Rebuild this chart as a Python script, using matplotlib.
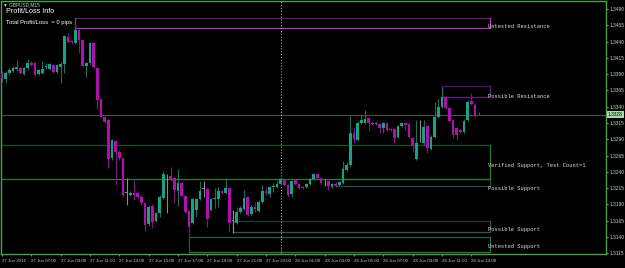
import matplotlib
matplotlib.use('Agg')
import matplotlib.pyplot as plt

W, H = 625, 268
BAR_PX = 3.667      # horizontal pixels per M15 bar
X0_PX = 2.0         # pixel x of the first bar

# GBPUSD M15, 27 Jun 05:00 -> 28 Jun 13:30
opens = [1.3392, 1.3383, 1.3392, 1.3395, 1.3398, 1.3399, 1.3390, 1.3399, 1.3407, 1.3407,
         1.3390, 1.3392, 1.3401, 1.3398, 1.3404, 1.3393, 1.3401, 1.3406, 1.3447, 1.3441,
         1.3438, 1.3458, 1.3442, 1.3402, 1.3407, 1.3438, 1.3399, 1.3352, 1.3324, 1.3320,
         1.3261, 1.3287, 1.3270, 1.3261, 1.3208, 1.3204, 1.3208, 1.3208, 1.3201, 1.3192,
         1.3160, 1.3188, 1.3165, 1.3177, 1.3200, 1.3235, 1.3234, 1.3231, 1.3211, 1.3223,
         1.3203, 1.3180, 1.3161, 1.3181, 1.3198, 1.3214, 1.3214, 1.3181, 1.3198, 1.3198,
         1.3211, 1.3208, 1.3215, 1.3165, 1.3162, 1.3178, 1.3183, 1.3201, 1.3175, 1.3186,
         1.3180, 1.3194, 1.3211, 1.3206, 1.3217, 1.3217, 1.3221, 1.3227, 1.3220, 1.3206,
         1.3227, 1.3221, 1.3217, 1.3217, 1.3221, 1.3229, 1.3237, 1.3231, 1.3223, 1.3226,
         1.3217, 1.3221, 1.3220, 1.3223, 1.3243, 1.3250, 1.3300, 1.3289, 1.3315, 1.3315,
         1.3323, 1.3315, 1.3314, 1.3314, 1.3307, 1.3315, 1.3306, 1.3306, 1.3293, 1.3310,
         1.3315, 1.3314, 1.3292, 1.3260, 1.3301, 1.3284, 1.3310, 1.3275, 1.3293, 1.3324,
         1.3340, 1.3355, 1.3338, 1.3320, 1.3307, 1.3304, 1.3301, 1.3320, 1.3349, 1.3343,
         1.3327]
highs = [1.3395, 1.3395, 1.3399, 1.3402, 1.3412, 1.3401, 1.3401, 1.3413, 1.3410, 1.3409,
         1.3398, 1.3410, 1.3407, 1.3407, 1.3406, 1.3406, 1.3409, 1.3450, 1.3453, 1.3442,
         1.3476, 1.3459, 1.3444, 1.3409, 1.3439, 1.3439, 1.3401, 1.3353, 1.3326, 1.3321,
         1.3290, 1.3289, 1.3274, 1.3263, 1.3231, 1.3211, 1.3227, 1.3209, 1.3204, 1.3194,
         1.3189, 1.3191, 1.3178, 1.3204, 1.3241, 1.3237, 1.3248, 1.3232, 1.3244, 1.3224,
         1.3204, 1.3181, 1.3200, 1.3200, 1.3226, 1.3226, 1.3215, 1.3200, 1.3215, 1.3217,
         1.3212, 1.3231, 1.3217, 1.3181, 1.3186, 1.3188, 1.3212, 1.3203, 1.3189, 1.3194,
         1.3197, 1.3220, 1.3217, 1.3218, 1.3223, 1.3227, 1.3231, 1.3229, 1.3221, 1.3227,
         1.3229, 1.3223, 1.3218, 1.3223, 1.3231, 1.3238, 1.3238, 1.3232, 1.3229, 1.3227,
         1.3223, 1.3224, 1.3226, 1.3257, 1.3255, 1.3326, 1.3307, 1.3318, 1.3329, 1.3335,
         1.3324, 1.3318, 1.3317, 1.3315, 1.3317, 1.3317, 1.3307, 1.3307, 1.3312, 1.3317,
         1.3317, 1.3315, 1.3293, 1.3320, 1.3320, 1.3320, 1.3312, 1.3297, 1.3347, 1.3352,
         1.3370, 1.3356, 1.3340, 1.3321, 1.3309, 1.3306, 1.3321, 1.3350, 1.3361, 1.3346,
         1.3332]
lows = [1.3378, 1.3376, 1.3389, 1.3393, 1.3395, 1.3390, 1.3389, 1.3396, 1.3402, 1.3387,
        1.3389, 1.3390, 1.3398, 1.3396, 1.3392, 1.3392, 1.3376, 1.3392, 1.3438, 1.3436,
        1.3436, 1.3422, 1.3401, 1.3386, 1.3404, 1.3399, 1.3337, 1.3323, 1.3315, 1.3246,
        1.3258, 1.3220, 1.3258, 1.3201, 1.3189, 1.3203, 1.3197, 1.3200, 1.3189, 1.3149,
        1.3157, 1.3154, 1.3163, 1.3171, 1.3198, 1.3177, 1.3226, 1.3192, 1.3188, 1.3201,
        1.3177, 1.3117, 1.3160, 1.3171, 1.3197, 1.3201, 1.3155, 1.3180, 1.3185, 1.3186,
        1.3206, 1.3206, 1.3148, 1.3146, 1.3160, 1.3177, 1.3181, 1.3172, 1.3174, 1.3178,
        1.3178, 1.3192, 1.3204, 1.3201, 1.3209, 1.3215, 1.3220, 1.3218, 1.3201, 1.3201,
        1.3220, 1.3214, 1.3214, 1.3215, 1.3220, 1.3227, 1.3229, 1.3221, 1.3218, 1.3212,
        1.3215, 1.3217, 1.3218, 1.3221, 1.3241, 1.3248, 1.3284, 1.3287, 1.3314, 1.3314,
        1.3303, 1.3312, 1.3312, 1.3300, 1.3300, 1.3303, 1.3303, 1.3284, 1.3292, 1.3309,
        1.3304, 1.3292, 1.3270, 1.3258, 1.3286, 1.3281, 1.3269, 1.3274, 1.3292, 1.3323,
        1.3338, 1.3337, 1.3317, 1.3292, 1.3289, 1.3300, 1.3300, 1.3318, 1.3343, 1.3324,
        1.3327]
closes = [1.3384, 1.3392, 1.3396, 1.3399, 1.3401, 1.3392, 1.3399, 1.3407, 1.3404, 1.3389,
          1.3396, 1.3398, 1.3402, 1.3406, 1.3393, 1.3404, 1.3406, 1.3449, 1.3439, 1.3439,
          1.3458, 1.3442, 1.3402, 1.3407, 1.3438, 1.3401, 1.3350, 1.3324, 1.3317, 1.3260,
          1.3289, 1.3270, 1.3261, 1.3204, 1.3208, 1.3208, 1.3204, 1.3201, 1.3192, 1.3158,
          1.3186, 1.3163, 1.3177, 1.3201, 1.3237, 1.3235, 1.3227, 1.3212, 1.3223, 1.3203,
          1.3178, 1.3155, 1.3198, 1.3198, 1.3211, 1.3214, 1.3168, 1.3198, 1.3200, 1.3211,
          1.3208, 1.3215, 1.3161, 1.3165, 1.3178, 1.3185, 1.3200, 1.3174, 1.3186, 1.3183,
          1.3194, 1.3211, 1.3208, 1.3217, 1.3218, 1.3221, 1.3229, 1.3220, 1.3204, 1.3226,
          1.3221, 1.3215, 1.3215, 1.3221, 1.3229, 1.3237, 1.3231, 1.3223, 1.3223, 1.3218,
          1.3221, 1.3218, 1.3224, 1.3244, 1.3251, 1.3300, 1.3290, 1.3315, 1.3320, 1.3321,
          1.3315, 1.3314, 1.3315, 1.3307, 1.3315, 1.3304, 1.3304, 1.3292, 1.3310, 1.3315,
          1.3312, 1.3293, 1.3280, 1.3284, 1.3301, 1.3309, 1.3277, 1.3293, 1.3324, 1.3340,
          1.3355, 1.3338, 1.3318, 1.3297, 1.3297, 1.3301, 1.3318, 1.3347, 1.3344, 1.3326,
          1.3328]

time_labels = ['27 Jun 2016', '27 Jun 07:00', '27 Jun 09:00', '27 Jun 11:00', '27 Jun 13:00',
               '27 Jun 15:00', '27 Jun 17:00', '27 Jun 19:00', '27 Jun 21:00', '27 Jun 23:00',
               '28 Jun 01:00', '28 Jun 03:00', '28 Jun 05:00', '28 Jun 07:00', '28 Jun 09:00',
               '28 Jun 11:00', '28 Jun 13:00']
time_label_bars = [0, 8, 16, 24, 32, 40, 48, 56, 64, 72, 80, 88, 96, 104, 112, 120, 128]
price_ticks = [1.3115, 1.3140, 1.3165, 1.3190, 1.3215, 1.3240, 1.3265, 1.3290, 1.3315,
               1.3340, 1.3365, 1.3390, 1.3415, 1.3440, 1.3465, 1.3490]
day_separator_bar = 76

# supply / demand zones
zone_names = ['Untested Resistance', 'Possible Resistance', 'Verified Support, Test Count=1',
              'Possible Support', 'Possible Support', 'Untested Support']
zone_start = [20, 120, -1, 91, 63, 51]
zone_end = 133
zone_top = [1.3476, 1.3372, 1.3281, 1.3229, 1.3165, 1.3140]
zone_bottom = [1.3461, 1.3355, 1.3229, 1.3218, 1.3148, 1.3117]
zone_label_y = [1.3463, 1.3356, 1.3250, 1.3215, 1.3151, 1.3125]
zone_top_col = ['#5c1f5c', '#4b1670', '#1f4d1f', '#2d4a4a', '#243838', '#2f5a3f']
zone_bot_col = ['#b23ab2', '#5a2080', '#2f7a2f', '#2d4a4a', '#335555', '#3c6e4c']

FG = '#4f9f4f'
BULL, BEAR, DOJI = '#16a383', '#b010b0', '#8c8c8c'
BULL_WICK, BEAR_WICK = '#1b6e5e', '#7c187c'


def px_to_price(y):
    # pixel row -> price, calibrated on the right-hand scale
    return 1.35038 - 0.0001535 * y


fig = plt.figure(figsize=(W / 100, H / 100), dpi=100, facecolor='black')
ax = fig.add_axes([1.5 / W, (H - 253.5) / H, (606 - 1.5) / W, (253.5 - 1) / H])
ax.set_facecolor('black')
ax.set_xlim((1.5 - X0_PX) / BAR_PX, (606 - X0_PX) / BAR_PX)
ax.set_ylim(px_to_price(253.5), px_to_price(1))

# zones (draw the thin one first so the verified zone sits on top of it)
for i in [3, 0, 1, 2, 4, 5]:
    x0, x1 = zone_start[i], zone_end
    ax.plot([x0, x1], [zone_top[i], zone_top[i]], color=zone_top_col[i], lw=0.9, zorder=1)
    ax.plot([x0, x1], [zone_bottom[i], zone_bottom[i]], color=zone_bot_col[i], lw=0.9, zorder=1)
    ax.plot([x1, x1], [zone_bottom[i], zone_top[i]], color=zone_bot_col[i], lw=0.9, zorder=1)
    if i != 3:
        ax.plot([x0, x0], [zone_bottom[i], zone_top[i]], color=zone_bot_col[i], lw=0.9, zorder=1)
    ax.text(x1 - 0.5, zone_label_y[i], zone_names[i], color='#dcdcdc', fontsize=3.9,
            family='Liberation Mono', ha='left', va='center', zorder=5)

# current price line and day separator
ax.axhline(closes[-1], color='#4a4a4a', lw=0.8, zorder=1.5)
ax.axvline(day_separator_bar, color='#7fcf7f', lw=0.8, ls=(0, (1, 1.6)), zorder=1.5)

# candles
for i in range(len(opens)):
    o, h, l, c = opens[i], highs[i], lows[i], closes[i]
    if c > o:
        body, wick = BULL, BULL_WICK
    elif c < o:
        body, wick = BEAR, BEAR_WICK
    else:
        body, wick = DOJI, DOJI
    ax.vlines(i, l, h, colors=wick, lw=0.8, zorder=2)
    height = max(abs(c - o), 0.00006)
    ax.bar(i, height, bottom=min(o, c), width=0.7, color=body, linewidth=0, zorder=3)

# axes styling
for s in ax.spines.values():
    s.set_color(FG)
    s.set_linewidth(1)
ax.yaxis.tick_right()
ax.set_yticks(price_ticks)
ax.set_yticklabels(['%.4f' % p for p in price_ticks])
ax.set_xticks(time_label_bars)
ax.set_xticklabels(time_labels)
ax.tick_params(axis='both', colors=FG, labelcolor='#b5dcb5', length=1.5, width=0.8)
ax.tick_params(axis='y', pad=0.8, labelsize=3.5)
ax.tick_params(axis='x', pad=2.5, labelsize=3.15)
for lab in ax.get_xticklabels():
    lab.set_ha('left')
    lab.set_family('Liberation Sans')
for lab in ax.get_yticklabels():
    lab.set_family('Liberation Sans')

# current price tag
ax.text(1.003, closes[-1], '%.4f' % closes[-1], transform=ax.get_yaxis_transform(),
        ha='left', va='center', fontsize=3.5, family='Liberation Sans', color='black',
        bbox=dict(boxstyle='square,pad=0.2', fc='#a6dca6', ec='none'), zorder=6)

# info texts in the top-left corner
fig.text(3 / W, 1 - 5 / H, '\u25bc GBPUSD,M15', color='#b8d8b8', fontsize=3.4,
         family=['Liberation Sans', 'DejaVu Sans'], va='center')
fig.text(6 / W, 1 - 11.7 / H, 'Profit/Loss Info', color='white', fontsize=5.2,
         family='Liberation Sans', va='center')
fig.text(6 / W, 1 - 22.8 / H, 'Total Profit/Loss  = 0 pips', color='white', fontsize=4.2,
         family='Liberation Sans', va='center')

fig.savefig('out.png', dpi=100, facecolor='black')
